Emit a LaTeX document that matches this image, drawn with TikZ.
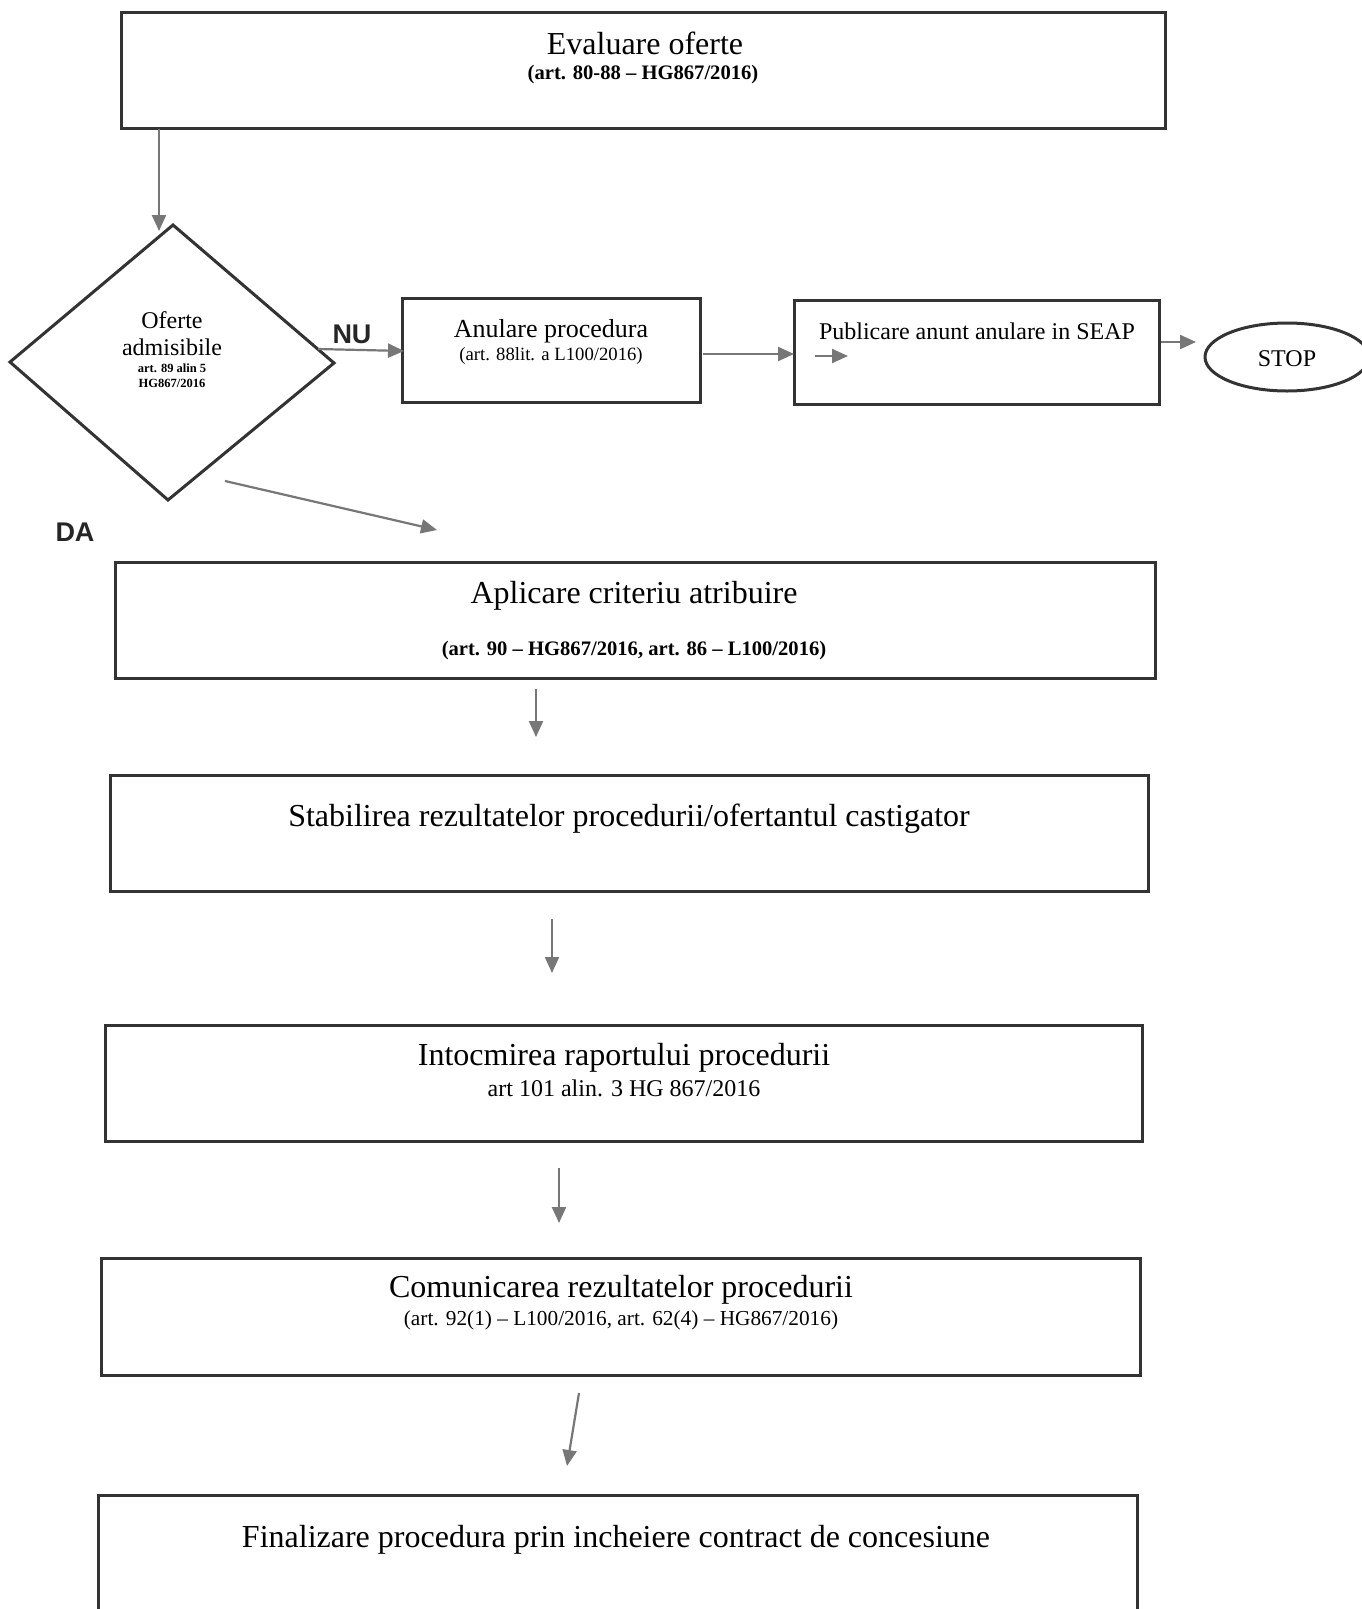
\documentclass[tikz,border=0pt]{standalone}
\usepackage{fontspec}
\setmainfont{Liberation Serif}
\newfontfamily\sansbold{Liberation Sans}
\usetikzlibrary{arrows.meta,shapes.geometric}
\definecolor{boxline}{HTML}{333333}
\definecolor{arrline}{HTML}{777777}
\newcommand\fTitle{\fontsize{32}{36}\selectfont}
\newcommand\fSubB{\fontsize{20.6}{24}\selectfont\bfseries}
\newcommand\fSub{\fontsize{21.3}{24}\selectfont}
\begin{document}
\begin{tikzpicture}[x=1pt,y=-1pt,
  box/.style={draw=boxline,line width=3pt,rectangle,inner sep=0pt},
  txt/.style={inner sep=0pt,text=black},
  arr/.style={draw=arrline,line width=2.2pt,-{Triangle[length=16pt,width=14pt]}},
  lbl/.style={inner sep=0pt,font=\sansbold\bfseries\fontsize{27}{30}\selectfont,text=black!85}]
\useasboundingbox (0,0) rectangle (1362,1609);
\fill[white] (0,0) rectangle (1362,1609);

% Evaluare
\node[box,minimum width=1044,minimum height=116] (eval) at (643,70) {};
\node[txt] (evalT) at (645,43) {\fTitle Evaluare oferte};
\node[txt] (evalS) at (643,75) {\fSubB (art. 80-88 -- HG867/2016)};

% Diamond
\coordinate (dTop) at (173,225);
\coordinate (dLeft) at (10,362);
\coordinate (dRight) at (334,363);
\coordinate (dBot) at (168,500);
\draw[boxline,line width=3pt,line join=miter] (dTop) -- (dRight) -- (dBot) -- (dLeft) -- cycle;
\node[txt] (dT1) at (172,320) {\fontsize{24}{28}\selectfont Oferte};
\node[txt] (dT2) at (172,347) {\fontsize{24}{28}\selectfont admisibile};
\node[txt] (dT3) at (172,368) {\fontsize{12.5}{14}\selectfont\bfseries art. 89 alin 5};
\node[txt] (dT4) at (172,383) {\fontsize{12.5}{14}\selectfont\bfseries HG867/2016};

% Anulare
\node[box,minimum width=298,minimum height=104] (anul) at (551,350.5) {};
\node[txt] (anulT) at (551,331) {\fontsize{26}{30}\selectfont Anulare procedura};
\node[txt] (anulS) at (551,356) {\fontsize{18.7}{22}\selectfont (art. 88lit. a L100/2016)};

% Publicare
\node[box,minimum width=365,minimum height=104] (publ) at (977,352) {};
\node[txt] (publT) at (977,331) {\fontsize{24}{28}\selectfont Publicare anunt anulare in SEAP};

% STOP
\node[draw=boxline,line width=3pt,ellipse,minimum width=164,minimum height=68,inner sep=0pt] (stop) at (1287,357) {};
\node[txt] (stopT) at (1287,359) {\fontsize{24}{28}\selectfont STOP};

% Aplicare
\node[box,minimum width=1040,minimum height=116] (apl) at (635,620) {};
\node[txt] (aplT) at (634,596) {\fTitle Aplicare criteriu atribuire};
\node[txt] (aplS) at (634,651) {\fSubB (art. 90 -- HG867/2016, art. 86 -- L100/2016)};

% Stabilirea
\node[box,minimum width=1038,minimum height=116] (stab) at (629,833) {};
\node[txt] (stabT) at (629,819) {\fTitle Stabilirea rezultatelor procedurii/ofertantul castigator};

% Intocmirea
\node[box,minimum width=1037,minimum height=116] (into) at (623.5,1083) {};
\node[txt] (intoT) at (624,1058) {\fTitle Intocmirea raportului procedurii};
\node[txt] (intoS) at (624,1088) {\fontsize{24}{28}\selectfont art 101 alin. 3 HG 867/2016};

% Comunicarea
\node[box,minimum width=1039,minimum height=117] (comu) at (620.5,1316.5) {};
\node[txt] (comuT) at (621,1290) {\fTitle Comunicarea rezultatelor procedurii};
\node[txt] (comuS) at (621,1320) {\fSub (art. 92(1) -- L100/2016, art. 62(4) -- HG867/2016)};

% Finalizare
\node[box,minimum width=1039,minimum height=140] (fin) at (617.5,1565) {};
\node[txt] (finT) at (616,1540) {\fTitle Finalizare procedura prin incheiere contract de concesiune};

% labels
\node[lbl] (nu) at (352,334) {NU};
\node[lbl] (da) at (75,532) {DA};

% connector coordinates
\coordinate (a1s) at (159,129);
\coordinate (a1e) at (159,231);
\coordinate (a2s) at (318,349);
\coordinate (a2e) at (404,351);
\coordinate (a3s) at (703,354);
\coordinate (a3e) at (794,354);
\coordinate (a4s) at (815,356);
\coordinate (a4e) at (848,356);
\coordinate (a5s) at (1161,342);
\coordinate (a5e) at (1196,342);
\coordinate (a6s) at (225,481);
\coordinate (a6e) at (437,530);
\coordinate (a7s) at (536,689);
\coordinate (a7e) at (536,737);
\coordinate (a8s) at (552,919);
\coordinate (a8e) at (552,973);
\coordinate (a9s) at (559,1168);
\coordinate (a9e) at (559,1223);
\coordinate (a10s) at (579,1393);
\coordinate (a10e) at (567,1466);

\draw[arr] (a1s) -- (a1e);
\draw[arr] (a2s) -- (a2e);
\draw[arr] (a3s) -- (a3e);
\draw[arr] (a4s) -- (a4e);
\draw[arr] (a5s) -- (a5e);
\draw[arr] (a6s) -- (a6e);
\draw[arr] (a7s) -- (a7e);
\draw[arr] (a8s) -- (a8e);
\draw[arr] (a9s) -- (a9e);
\draw[arr] (a10s) -- (a10e);
\end{tikzpicture}
\end{document}
